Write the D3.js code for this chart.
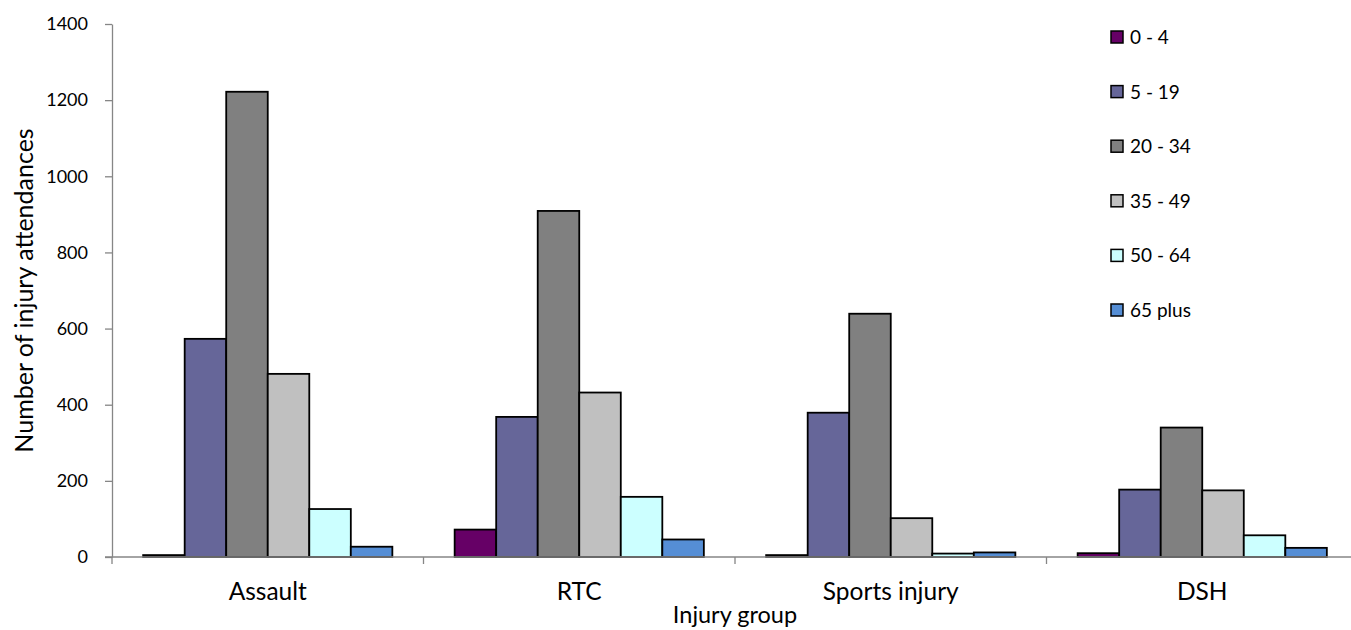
<!DOCTYPE html>
<html lang="en">
    <head>
        <meta charset="UTF-8" />
        <title>Injury attendances by age</title>
        <script src="https://d3js.org/d3.v7.js"></script>
    </head>

    <body>
        <div id="dataviz"></div>
    </body>

    <script>
        const groups = ["Assault", "RTC", "Sports injury", "DSH"];
        const ages = ["0 - 4", "5 - 19", "20 - 34", "35 - 49", "50 - 64", "65 plus"];
        const colors = ["#660066", "#666699", "#808080", "#C0C0C0", "#CCFFFF", "#558ED5"];

        // one array per age band, in the order of groups
        const age0to4 = [5, 72, 5, 10];
        const age5to19 = [573, 368, 379, 177];
        const age20to34 = [1222, 909, 639, 340];
        const age35to49 = [481, 432, 102, 175];
        const age50to64 = [126, 158, 9, 57];
        const age65plus = [27, 46, 12, 24];
        const series = [age0to4, age5to19, age20to34, age35to49, age50to64, age65plus];

        const yTicks = [0, 200, 400, 600, 800, 1000, 1200, 1400];

        const margin = {top: 24, right: -7, bottom: 73, left: 112},
            width = 1351 - margin.left - margin.right,
            height = 630 - margin.top - margin.bottom;

        const root = d3.select("#dataviz")
            .append("svg")
            .attr("width", 1351)
            .attr("height", 630);

        const svg = root.append("g")
            .attr("transform", `translate(${margin.left},${margin.top})`);

        const x = d3.scaleBand()
            .domain(groups)
            .range([0, width])
            .paddingInner(0)
            .paddingOuter(0);

        const xSub = d3.scaleBand()
            .domain(ages)
            .range([x.bandwidth() * 0.1, x.bandwidth() * 0.9]);

        const y = d3.scaleLinear()
            .domain([0, 1400])
            .range([height, 0]);

        // bars
        const rows = [];
        groups.forEach((g, gi) => {
            ages.forEach((a, ai) => {
                rows.push({group: g, age: a, value: series[ai][gi], color: colors[ai]});
            });
        });

        svg.selectAll(".bar")
            .data(rows)
            .join("rect")
            .attr("class", "bar")
            .attr("x", d => x(d.group) + xSub(d.age))
            .attr("y", d => y(d.value))
            .attr("width", xSub.bandwidth())
            .attr("height", d => height - y(d.value))
            .style("fill", d => d.color)
            .style("stroke", "#000")
            .style("stroke-width", 1.8);

        // y axis
        const yAxis = svg.append("g")
            .attr("class", "yaxis")
            .call(d3.axisLeft(y).tickValues(yTicks).tickFormat(d3.format("d"))
                .tickSize(7).tickSizeOuter(0).tickPadding(17));

        // x axis with ticks on the category boundaries
        const xAxis = svg.append("g")
            .attr("transform", `translate(0, ${height})`);
        xAxis.append("line")
            .attr("x1", -7).attr("x2", width)
            .attr("y1", 0).attr("y2", 0);
        xAxis.selectAll(".bound")
            .data(d3.range(groups.length + 1))
            .join("line")
            .attr("class", "bound")
            .attr("x1", i => i * x.bandwidth())
            .attr("x2", i => i * x.bandwidth())
            .attr("y1", 0).attr("y2", 7);
        xAxis.selectAll(".lab")
            .data(groups)
            .join("text")
            .attr("class", "lab")
            .attr("x", d => x(d) + x.bandwidth() / 2)
            .attr("y", 43)
            .attr("text-anchor", "middle")
            .text(d => d);

        svg.selectAll(".domain, line").style("stroke", "#868686").style("stroke-width", 1.3);
        yAxis.attr("font-family", null).attr("font-size", null);

        // axis titles
        svg.append("text")
            .attr("class", "xtitle")
            .attr("x", width / 2)
            .attr("y", height + 66)
            .attr("text-anchor", "middle")
            .text("Injury group");

        svg.append("text")
            .attr("class", "ytitle")
            .attr("transform", `translate(-79, ${height / 2}) rotate(-90)`)
            .attr("text-anchor", "middle")
            .text("Number of injury attendances");

        // legend
        const legend = root.append("g")
            .attr("class", "legend")
            .attr("transform", "translate(1111, 31)");
        const item = legend.selectAll("g")
            .data(ages)
            .join("g")
            .attr("transform", (d, i) => `translate(0, ${i * 54.6})`);
        item.append("rect")
            .attr("width", 12)
            .attr("height", 12)
            .style("fill", (d, i) => colors[i])
            .style("stroke", "#000")
            .style("stroke-width", 1.5);
        item.append("text")
            .attr("x", 19)
            .attr("y", 13)
            .text(d => d);
    </script>

    <style>
        body {
            margin: 0;
            background: #fff;
        }
        svg {
            display: block;
            font-family: Lato, "Open Sans", sans-serif;
        }
        svg text {
            fill: #000;
        }
        .yaxis text {
            font-size: 18px;
        }
        .lab {
            font-size: 24.5px;
        }
        .xtitle {
            font-size: 23.5px;
        }
        .ytitle {
            font-size: 25px;
        }
        .legend text {
            font-size: 19px;
        }
    </style>
</html>
